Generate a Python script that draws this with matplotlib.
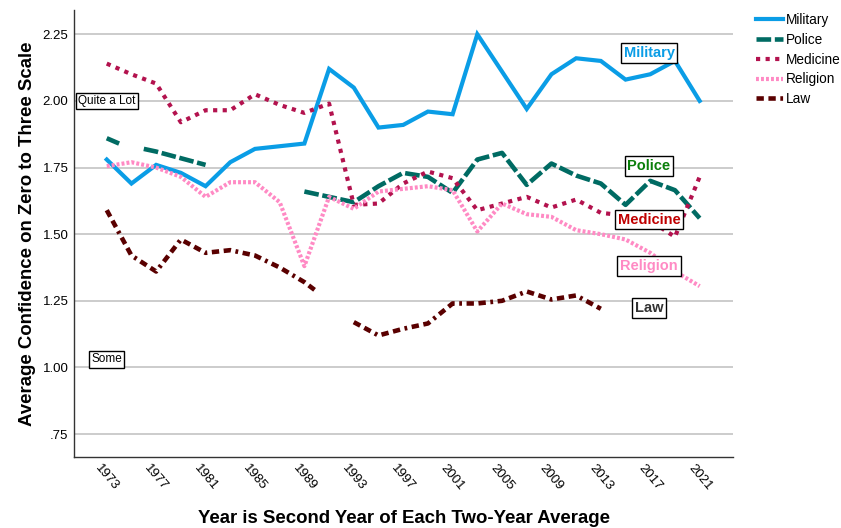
import numpy as np
import matplotlib
matplotlib.use("Agg")
import matplotlib.pyplot as plt

plt.rcParams['font.family'] = ['Liberation Sans', 'DejaVu Sans']

# data
years = list(range(1973, 2022, 2))
military = [1.78, 1.69, 1.76, 1.73, 1.68, 1.77, 1.82, 1.83, 1.84, 2.12, 2.05, 1.90, 1.91,
            1.96, 1.95, 2.25, 2.11, 1.97, 2.10, 2.16, 2.15, 2.08, 2.10, 2.15, 2.00]
police_years = [1973, 1974, 1975, 1976, 1977, 1979, 1981, 1985] + list(range(1989, 2022, 2))
police = [1.86, 1.84, np.nan, 1.82, 1.81, 1.785, 1.76, np.nan,
          1.66, 1.64, 1.62, 1.68, 1.73, 1.715, 1.655, 1.78, 1.805, 1.685, 1.765,
          1.72, 1.69, 1.61, 1.70, 1.665, 1.56]
medicine = [2.14, 2.10, 2.065, 1.92, 1.965, 1.965, 2.025, 1.985, 1.955, 1.99, 1.61, 1.615,
            1.69, 1.735, 1.71, 1.59, 1.615, 1.64, 1.60, 1.63, 1.58, 1.57, 1.55, 1.49, 1.715]
religion = [1.755, 1.77, 1.75, 1.715, 1.64, 1.695, 1.695, 1.62, 1.38, 1.64, 1.595, 1.66,
            1.67, 1.68, 1.665, 1.51, 1.615, 1.575, 1.565, 1.515, 1.50, 1.48, 1.43, 1.36, 1.305]
law_years = list(range(1973, 1990, 2)) + [1990, 1991] + list(range(1993, 2014, 2))
law = [1.59, 1.42, 1.36, 1.48, 1.43, 1.44, 1.42, 1.375, 1.32, 1.285, np.nan,
       1.17, 1.12, 1.145, 1.165, 1.24, 1.24, 1.25, 1.285, 1.255, 1.27, 1.22]

xticks = list(range(1973, 2022, 4))
yticks = [0.75, 1.00, 1.25, 1.50, 1.75, 2.00, 2.25]
ytick_labels = ['.75', '1.00', '1.25', '1.50', '1.75', '2.00', '2.25']

c_mil = '#0a9de6'
c_pol = '#006b63'
c_med = '#b3124e'
c_rel = '#ff8ac4'
c_law = '#5a0000'

fig = plt.figure(figsize=(8.41, 5.28), dpi=100)
ax = fig.add_axes([0.088, 0.1345, 0.7836, 0.8465])

ax.plot(years, military, color=c_mil, lw=3.0, solid_joinstyle='miter', label='Military')
ax.plot(police_years, police, color=c_pol, lw=3.3, linestyle=(0, (3.2, 0.8)), label='Police')
ax.plot(years, medicine, color=c_med, lw=3.0, linestyle=(0, (1.0, 1.3)), label='Medicine')
ax.plot(years, religion, color=c_rel, lw=3.0, linestyle=(0, (0.7, 0.5)), label='Religion')
ax.plot(law_years, law, color=c_law, lw=3.3, linestyle=(0, (1.6, 1.0, 1.6, 1.0, 0.6, 1.0)), label='Law')

ax.set_xlim(1970.35, 2023.7)
ax.set_ylim(0.664, 2.341)
ax.set_xticks(xticks)
ax.set_xticklabels([str(y) for y in xticks], rotation=-50, ha='center', va='top', fontsize=9.5)
ax.set_yticks(yticks)
ax.set_yticklabels(ytick_labels, fontsize=9.5)
ax.tick_params(length=0, pad=4)
ax.grid(axis='y', color='#c4c4c4', lw=1.2)
ax.set_axisbelow(True)
for s in ['top', 'right']:
    ax.spines[s].set_visible(False)
for s in ['left', 'bottom']:
    ax.spines[s].set_color('#333333')
    ax.spines[s].set_linewidth(1.0)

ax.set_xlabel('Year is Second Year of Each Two-Year Average', fontsize=13.4, fontweight='bold', labelpad=12)
ax.set_ylabel('Average Confidence on Zero to Three Scale', fontsize=13.4, fontweight='bold', labelpad=5)

box = dict(boxstyle='square,pad=0.2', fc='white', ec='black', lw=1)
ax.text(1973, 2.00, 'Quite a Lot', fontsize=8.5, ha='center', va='center', bbox=box)
ax.text(1973, 1.03, 'Some', fontsize=8.5, ha='center', va='center', bbox=box)

lbl = dict(fontsize=10.5, fontweight='bold', ha='center', va='center', bbox=box)
ax.text(2016.9, 2.18, 'Military', color=c_mil, **lbl)
ax.text(2016.9, 1.755, 'Police', color='#0a7f0a', **lbl)
ax.text(2016.9, 1.555, 'Medicine', color='#c00000', **lbl)
ax.text(2016.9, 1.382, 'Religion', color=c_rel, **lbl)
ax.text(2016.9, 1.222, 'Law', color='#333333', **lbl)

fig.legend(loc='upper left', bbox_to_anchor=(0.892, 0.986), frameon=False, fontsize=9.8,
           handlelength=2.0, handletextpad=0.25, labelspacing=0.43, borderaxespad=0)

fig.savefig('out.png', dpi=100)
